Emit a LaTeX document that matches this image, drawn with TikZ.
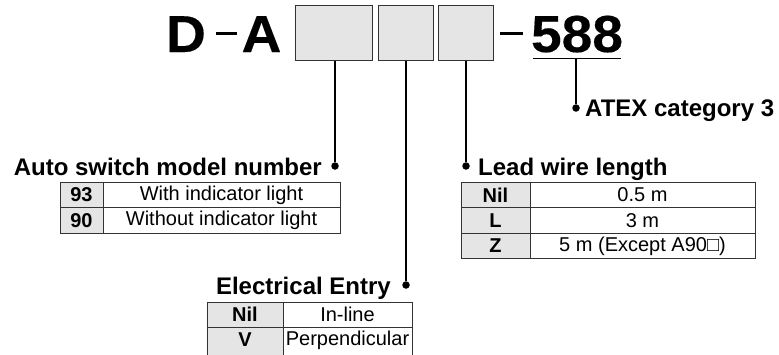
\documentclass[tikz,border=0pt]{standalone}
\usepackage{fontspec}
\setmainfont{Liberation Sans}
\newfontfamily\headfont[FakeStretch=1.06,FakeBold=0.3]{Liberation Sans Bold}
\begin{document}
\begin{tikzpicture}[x=1pt,y=-1pt,
  codebox/.style={draw=black!80,fill=black!10,line width=1.4pt},
  lead/.style={line width=1.3pt,black},
  dotn/.style={circle,fill=black,inner sep=0pt,minimum size=7.5pt},
  head/.style={font=\fontsize{52}{52}\headfont,inner sep=0pt},
  ttl/.style={font=\fontsize{24}{24}\selectfont\bfseries,inner sep=0pt},
  cell/.style={font=\fontsize{20}{20}\selectfont,inner sep=0pt},
  bcell/.style={font=\fontsize{20}{20}\selectfont\bfseries,inner sep=0pt},
  tabline/.style={draw=black!80,line width=0.8pt},
  keyfill/.style={fill=black!10}]
\useasboundingbox (0,0) rectangle (779,354);
% header
\node[head,anchor=base] (D) at (186,52) {D};
\node[head,anchor=base] (A) at (261.5,52) {A};
\coordinate (d1a) at (216,33.5); \coordinate (d1b) at (237,33.5);
\draw[line width=3pt] (d1a) -- (d1b);
\node[codebox,minimum width=77pt,minimum height=55pt,inner sep=0pt,anchor=north west] (b1) at (295,5) {};
\node[codebox,minimum width=55pt,minimum height=55pt,inner sep=0pt,anchor=north west] (b2) at (378,5) {};
\node[codebox,minimum width=55pt,minimum height=55pt,inner sep=0pt,anchor=north west] (b3) at (438,5) {};
\coordinate (d2a) at (500,33.5); \coordinate (d2b) at (523,33.5);
\draw[line width=3pt] (d2a) -- (d2b);
\node[head,anchor=base] (n588) at (577,52) {588};
\coordinate (ul1) at (533,58.5); \coordinate (ul2) at (621,58.5);
\draw[line width=1.5pt] (ul1) -- (ul2);
% dots
\node[dotn] (p1) at (335,166) {};
\node[dotn] (p2) at (406,285) {};
\node[dotn] (p3) at (466,166) {};
\node[dotn] (p4) at (576,108) {};
\draw[lead] (b1.south -| p1) -- (p1);
\draw[lead] (b2.south -| p2) -- (p2);
\draw[lead] (b3.south -| p3) -- (p3);
\draw[lead] (ul1 -| p4) -- (p4);
% titles
\node[ttl,anchor=base east] (t1) at (322,175) {Auto switch model number};
\node[ttl,anchor=base west] (t3) at (478,175) {Lead wire length};
\node[ttl,anchor=base west] (t4) at (585,116) {ATEX category 3};
\node[ttl,anchor=base east] (t2) at (391,294) {Electrical Entry};
% Auto switch table
\fill[keyfill] (60,182) rectangle (103,233);
\draw[tabline] (60,182) rectangle (340,233);
\draw[tabline] (60,207.5) -- (340,207.5);
\draw[tabline] (103,182) -- (103,233);
\node[bcell] (a1k) at (81.5,195) {93};
\node[cell] (a1v) at (221.5,195) {With indicator light};
\node[bcell] (a2k) at (81.5,220.5) {90};
\node[cell] (a2v) at (221.5,220.5) {Without indicator light};
% Lead wire table
\fill[keyfill] (461,182) rectangle (530,258.5);
\draw[tabline] (461,182) rectangle (755,258.5);
\draw[tabline] (461,207.5) -- (755,207.5);
\draw[tabline] (461,233) -- (755,233);
\draw[tabline] (530,182) -- (530,258.5);
\node[bcell] (l1k) at (495.5,195) {Nil};
\node[cell] (l1v) at (642.5,195) {0.5 m};
\node[bcell] (l2k) at (495.5,220.5) {L};
\node[cell] (l2v) at (642.5,220.5) {3 m};
\node[bcell] (l3k) at (495.5,246) {Z};
\node[cell] (l3v) at (642.5,246) {5 m (Except A90□)};
% Electrical entry table
\fill[keyfill] (207,302) rectangle (283,360);
\draw[tabline] (207,360) -- (207,302) -- (412,302) -- (412,360);
\draw[tabline] (207,327) -- (412,327);
\draw[tabline] (283,302) -- (283,360);
\node[bcell] (e1k) at (245,314.5) {Nil};
\node[cell] (e1v) at (347.5,314.5) {In-line};
\node[bcell] (e2k) at (245,340) {V};
\node[cell] (e2v) at (347.5,340) {Perpendicular};
\end{tikzpicture}
\end{document}
